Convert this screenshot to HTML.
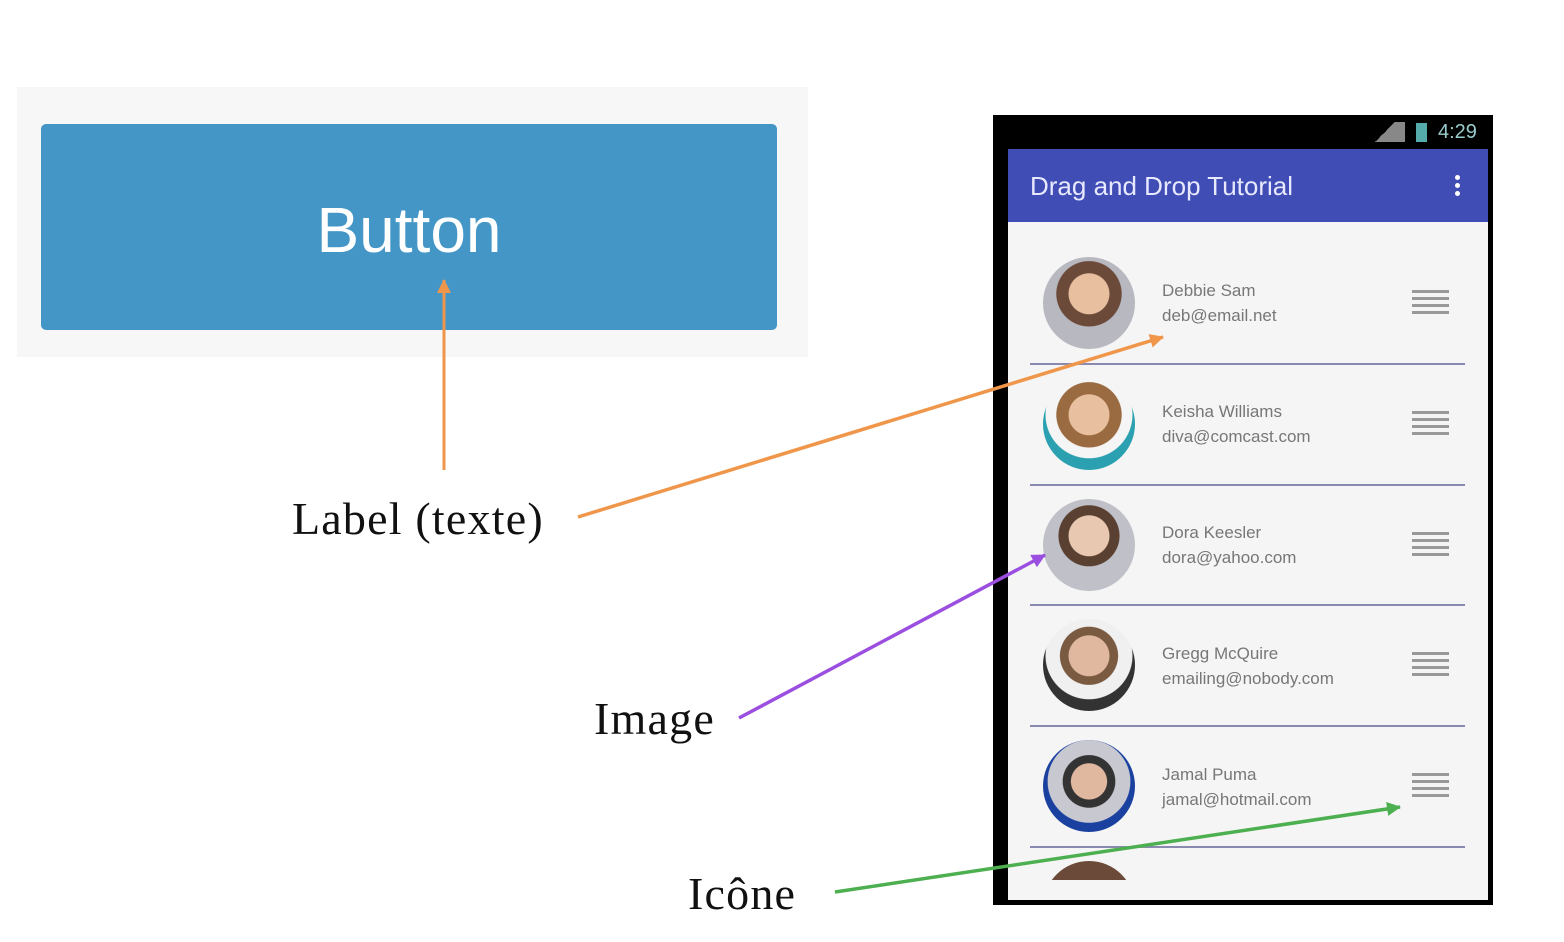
<!DOCTYPE html><html><head><style>
body{margin:0;width:1564px;height:942px;background:#fff;position:relative;overflow:hidden;font-family:"Liberation Sans",sans-serif}
.a{position:absolute}
.lbl{position:absolute;font-family:"Liberation Serif",serif;font-size:46px;letter-spacing:1.2px;color:#111;line-height:1}
.av{position:absolute;left:1043px;width:92px;height:92px;border-radius:50%;background:radial-gradient(circle at 50% 40%,#e8c0a0 0 28%,#6b4a3a 29% 45%,#b8b8c0 46%)}
.nm{position:absolute;left:1162px;font-size:17px;color:#777;line-height:25px}
.hb{position:absolute;left:1412px;width:37px;height:26px;background:repeating-linear-gradient(#999 0 3px,transparent 3px 7px)}
.sep{position:absolute;left:1030px;width:435px;height:2px;background:#8a8ab0}
</style></head><body>
<div class="a" style="left:17px;top:87px;width:791px;height:270px;background:#f7f7f7"></div>
<div class="a" style="left:41px;top:124px;width:736px;height:206px;background:#4496c6;border-radius:5px;color:#fff;font-size:64px;text-align:center;line-height:206px;"><span style="position:relative;top:3px">Button</span></div>

<div class="a" style="left:993px;top:115px;width:500px;height:790px;background:#000"></div>
<div class="a" style="left:1008px;top:149px;width:480px;height:751px;background:#f5f5f5;overflow:hidden">
<div class="a" style="left:0;top:0;width:480px;height:73px;background:#3f4db5"></div>
<div class="a" style="left:22px;top:22px;font-size:26px;color:#e8e8ff">Drag and Drop Tutorial</div>
<div class="a" style="left:447px;top:26px;width:5px;height:5px;border-radius:50%;background:#fff;box-shadow:0 8px #fff,0 16px #fff"></div>
<div class="a" style="left:35px;top:712px;width:92px;height:92px;border-radius:50%;background:radial-gradient(circle at 50% 50%,#e8c0a0 0 30%,#6b4a3a 31%)"></div>
<div class="a" style="left:0;top:731px;width:480px;height:30px;background:#f5f5f5"></div>
</div>
<div class="a" style="left:1438px;top:121px;font-size:20px;color:#9cc">4:29</div>
<div class="a" style="left:1416px;top:123px;width:11px;height:19px;background:#5aa"></div>
<div class="a" style="left:1365px;top:122px;width:40px;height:20px;background:linear-gradient(135deg,transparent 50%,#888 50%)"></div>

<div class="av" style="top:257px"></div><div class="nm" style="top:278px">Debbie Sam<br>deb@email.net</div><div class="hb" style="top:290px"></div>
<div class="sep" style="top:363px"></div>
<div class="av" style="top:378px;background:radial-gradient(circle at 50% 40%,#e8c0a0 0 28%,#9a6a40 29% 45%,#f5f5f5 46% 60%,#2aa0b0 61%)"></div><div class="nm" style="top:399px">Keisha Williams<br>diva@comcast.com</div><div class="hb" style="top:411px"></div>
<div class="sep" style="top:484px"></div>
<div class="av" style="top:499px;background:radial-gradient(circle at 50% 40%,#e8c8b0 0 28%,#5a4030 29% 42%,#c0c0c8 43%)"></div><div class="nm" style="top:520px">Dora Keesler<br>dora@yahoo.com</div><div class="hb" style="top:532px"></div>
<div class="sep" style="top:604px"></div>
<div class="av" style="top:619px;background:radial-gradient(circle at 50% 40%,#e0b8a0 0 28%,#7a5a40 29% 40%,#f0f0f0 41% 60%,#333 61%)"></div><div class="nm" style="top:641px">Gregg McQuire<br>emailing@nobody.com</div><div class="hb" style="top:652px"></div>
<div class="sep" style="top:725px"></div>
<div class="av" style="top:740px;background:radial-gradient(circle at 50% 45%,#e0b8a0 0 26%,#333 27% 38%,#c8c8d0 39% 60%,#1a40a0 61%)"></div><div class="nm" style="top:762px">Jamal Puma<br>jamal@hotmail.com</div><div class="hb" style="top:773px"></div>
<div class="sep" style="top:846px"></div>

<svg class="a" style="left:0;top:0" width="1564" height="942">
<defs>
<marker id="p" markerWidth="14" markerHeight="14" refX="13" refY="7" orient="auto" markerUnits="userSpaceOnUse"><path d="M0,0L14,7L0,14z" fill="#9b4fe0"/></marker>
<marker id="g" markerWidth="14" markerHeight="14" refX="13" refY="7" orient="auto" markerUnits="userSpaceOnUse"><path d="M0,0L14,7L0,14z" fill="#4caf50"/></marker>
<marker id="o2" markerWidth="14" markerHeight="14" refX="13" refY="7" orient="auto" markerUnits="userSpaceOnUse"><path d="M0,0L14,7L0,14z" fill="#f0964a"/></marker>
</defs>
<line x1="444" y1="470" x2="444" y2="280" stroke="#f0964a" stroke-width="3" marker-end="url(#o2)"/>
<line x1="578" y1="517" x2="1163" y2="337" stroke="#f0964a" stroke-width="3.5" marker-end="url(#o2)"/>
<line x1="739" y1="718" x2="1045" y2="555" stroke="#9b4fe0" stroke-width="3.5" marker-end="url(#p)"/>
<line x1="835" y1="892" x2="1400" y2="807" stroke="#4caf50" stroke-width="3.5" marker-end="url(#g)"/>
</svg>
<div class="lbl" style="left:292px;top:496px">Label (texte)</div>
<div class="lbl" style="left:594px;top:696px">Image</div>
<div class="lbl" style="left:688px;top:871px">Icône</div>
</body></html>
